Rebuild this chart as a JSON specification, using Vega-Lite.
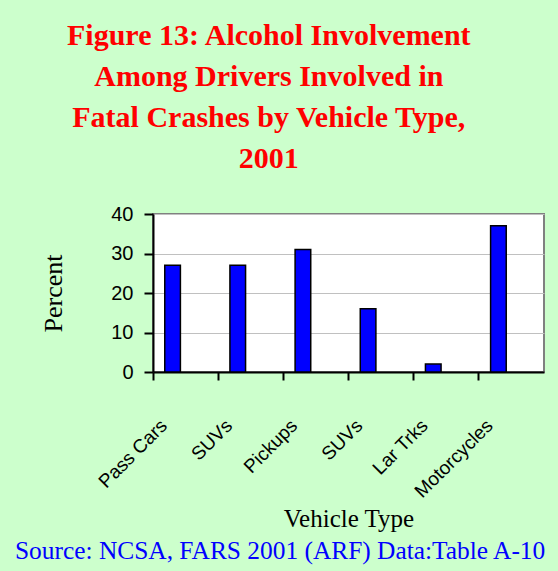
{
  "$schema": "https://vega.github.io/schema/vega-lite/v6.json",
  "background": "#CCFFCC",
  "autosize": {"type": "none"},
  "padding": {"left": 153, "top": 214, "right": 405, "bottom": 357},
  "title": {
    "text": ["Figure 13: Alcohol Involvement", "Among Drivers Involved in", "Fatal Crashes by Vehicle Type,", "2001"],
    "font": "Liberation Serif",
    "fontSize": 30,
    "fontWeight": "bold",
    "color": "#FF0000",
    "lineHeight": 41,
    "anchor": "middle",
    "offset": 29,
    "dx": -12
  },
  "vconcat": [
    {
      "width": 391,
      "height": 158,
      "title": {
        "text": "Source: NCSA, FARS 2001 (ARF) Data:Table A-10",
        "orient": "bottom",
        "anchor": "start",
        "frame": "group",
        "font": "Liberation Serif",
        "fontSize": 25.4,
        "fontWeight": "normal",
        "color": "#0000FF",
        "dx": -138,
        "offset": 8
      },
      "data": {
        "values": [
          {"vehicle": "Pass Cars", "percent": 27},
          {"vehicle": "SUVs", "percent": 27},
          {"vehicle": "Pickups", "percent": 31},
          {"vehicle": "SUVs|2", "percent": 16},
          {"vehicle": "Lar Trks", "percent": 2},
          {"vehicle": "Motorcycles", "percent": 37}
        ]
      },
      "mark": {"type": "bar", "fill": "#0000FF", "stroke": "#000000", "strokeWidth": 1.5, "width": {"band": 0.24}, "xOffset": -13},
      "encoding": {
        "x": {
          "field": "vehicle",
          "type": "nominal",
          "sort": null,
          "scale": {"paddingInner": 0, "paddingOuter": 0},
          "axis": {
            "title": "Vehicle Type",
            "titleFont": "Liberation Serif",
            "titleFontSize": 25,
            "titleFontWeight": "normal",
            "titleColor": "#000000",
            "titlePadding": 5,
            "bandPosition": 0,
            "labelExpr": "split(datum.label, '|')[0]",
            "labelAngle": -45,
            "labelAlign": "right",
            "labelBaseline": "top",
            "labelOffset": -28,
            "labelPadding": 36,
            "labelFont": "Liberation Sans",
            "labelFontSize": 19,
            "labelColor": "#000000",
            "labelOverlap": false,
            "labelFlush": false,
            "tickSize": 8,
            "tickWidth": 2,
            "tickColor": "#000000",
            "domainColor": "#000000",
            "domainWidth": 2
          }
        },
        "y": {
          "field": "percent",
          "type": "quantitative",
          "scale": {"domain": [0, 40], "nice": false},
          "axis": {
            "title": "Percent",
            "titleFont": "Liberation Serif",
            "titleFontSize": 26,
            "titleFontWeight": "normal",
            "titleColor": "#000000",
            "titlePadding": 44,
            "values": [0, 10, 20, 30, 40],
            "labelFont": "Liberation Sans",
            "labelFontSize": 20,
            "labelColor": "#000000",
            "labelPadding": 11,
            "tickSize": 9,
            "tickWidth": 2,
            "tickColor": "#000000",
            "domainColor": "#000000",
            "domainWidth": 2,
            "grid": true,
            "gridColor": "#C0C0C0",
            "gridWidth": 1
          }
        }
      }
    }
  ],
  "config": {
    "view": {"fill": "#FFFFFF", "stroke": "#808080", "strokeWidth": 2}
  }
}
